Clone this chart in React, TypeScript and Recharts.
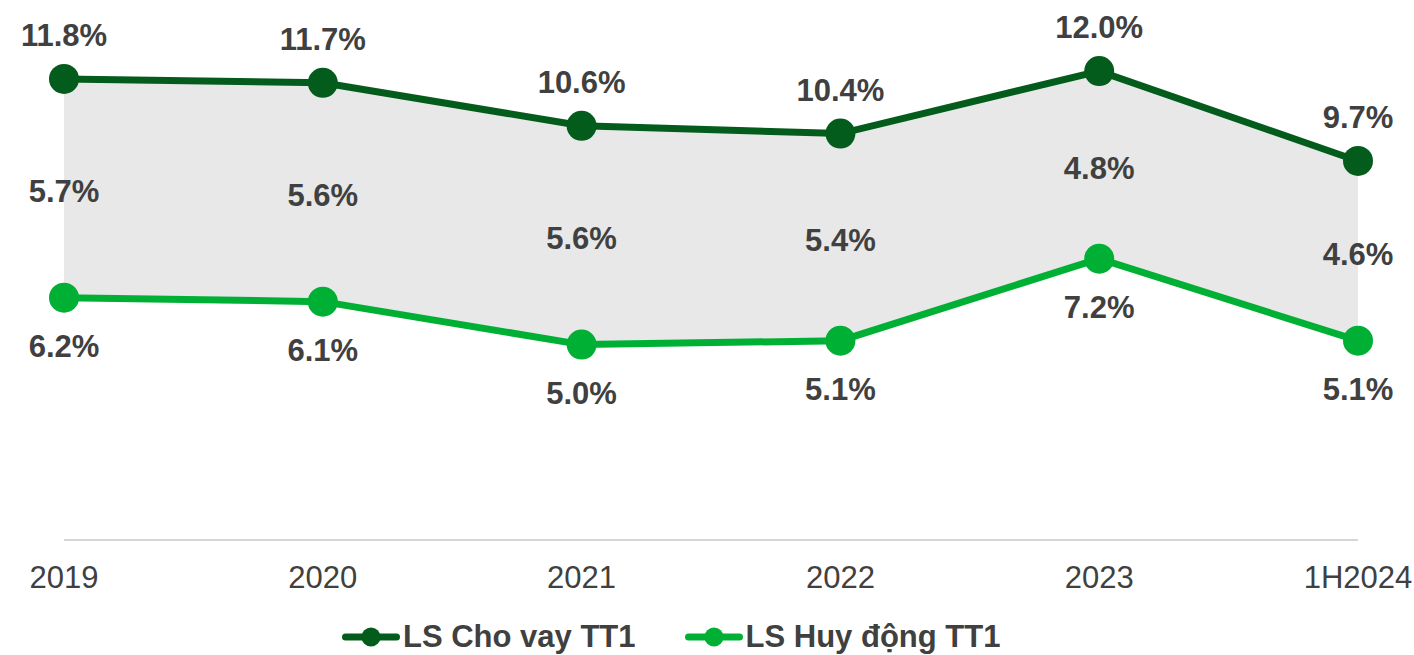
import React from 'react';
import { ComposedChart, Line, Area, XAxis, YAxis, LabelList } from 'recharts';

const categories = ['2019', '2020', '2021', '2022', '2023', '1H2024'];
const lendingRates = [11.8, 11.7, 10.6, 10.4, 12.0, 9.7];
const depositRates = [6.2, 6.1, 5.0, 5.1, 7.2, 5.1];
const spreadLabels = ['5.7%', '5.6%', '5.6%', '5.4%', '4.8%', '4.6%'];

const seriesNames = ['LS Cho vay TT1', 'LS Huy động TT1'];
const DARK = '#045c1c';
const LIGHT = '#00b034';
const TEXT = '#404040';
const FONT = '"Liberation Sans", Arial, sans-serif';

const data = categories.map((name, i) => ({
  name,
  lend: lendingRates[i],
  dep: depositRates[i],
  band: [depositRates[i], lendingRates[i]],
  mid: (depositRates[i] + lendingRates[i]) / 2,
}));

const fmt = (v: number) => `${v.toFixed(1)}%`;

const TopLabel = (props: any) => {
  const { x, y, value } = props;
  return (
    <text x={x} y={y - 44} dy="0.36em" textAnchor="middle" fill={TEXT} fontSize={31} fontWeight="bold" fontFamily={FONT}>
      {fmt(Number(value))}
    </text>
  );
};

const BottomLabel = (props: any) => {
  const { x, y, value } = props;
  return (
    <text x={x} y={y + 48} dy="0.36em" textAnchor="middle" fill={TEXT} fontSize={31} fontWeight="bold" fontFamily={FONT}>
      {fmt(Number(value))}
    </text>
  );
};

const MidLabel = (props: any) => {
  const { x, y, index } = props;
  return (
    <text x={x} y={y + 3} dy="0.36em" textAnchor="middle" fill={TEXT} fontSize={31} fontWeight="bold" fontFamily={FONT}>
      {spreadLabels[index]}
    </text>
  );
};

const Tick = (props: any) => {
  const { x, y, payload } = props;
  return (
    <text x={x} y={y} dy={48} textAnchor="middle" fill={TEXT} fontSize={31} fontFamily={FONT}>
      {payload.value}
    </text>
  );
};

const LegendItem = ({ color, label }: { color: string; label: string }) => (
  <div style={{ display: 'flex', alignItems: 'center' }}>
    <svg width={58} height={22} style={{ display: 'block' }}>
      <line x1={3.5} y1={11} x2={54.5} y2={11} stroke={color} strokeWidth={7} strokeLinecap="round" />
      <circle cx={29} cy={11} r={9.5} fill={color} />
    </svg>
    <span style={{ marginLeft: 3, fontSize: 31, fontWeight: 'bold', color: TEXT, fontFamily: FONT, whiteSpace: 'nowrap' }}>
      {label}
    </span>
  </div>
);

export default function App() {
  return (
    <div style={{ position: 'absolute', left: 0, top: 0, width: 1414, height: 655, background: '#fff', overflow: 'hidden' }}>
      <ComposedChart width={1414} height={655} data={data} margin={{ top: 32, right: 56, bottom: 75, left: 64 }}>
        <XAxis
          dataKey="name"
          scale="point"
          padding={{ left: 0, right: 0 }}
          axisLine={{ stroke: '#c8c8c8', strokeWidth: 1.5 }}
          tickLine={false}
          tickSize={0}
          tickMargin={0}
          height={40}
          tick={<Tick />}
          interval={0}
        />
        <YAxis hide domain={[0, 13]} />
        <Area dataKey="band" stroke="none" fill="#e8e8e8" fillOpacity={1} isAnimationActive={false} activeDot={false} />
        <Line dataKey="mid" stroke="none" dot={false} activeDot={false} isAnimationActive={false}>
          <LabelList dataKey="mid" content={<MidLabel />} />
        </Line>
        <Line
          dataKey="lend"
          stroke={DARK}
          strokeWidth={7}
          dot={{ r: 15, fill: DARK, stroke: 'none' }}
          activeDot={false}
          isAnimationActive={false}
        >
          <LabelList dataKey="lend" content={<TopLabel />} />
        </Line>
        <Line
          dataKey="dep"
          stroke={LIGHT}
          strokeWidth={7}
          dot={{ r: 15, fill: LIGHT, stroke: 'none' }}
          activeDot={false}
          isAnimationActive={false}
        >
          <LabelList dataKey="dep" content={<BottomLabel />} />
        </Line>
      </ComposedChart>
      <div style={{ position: 'absolute', left: 342, top: 619, display: 'flex', alignItems: 'center', gap: 49 }}>
        <LegendItem color={DARK} label={seriesNames[0]} />
        <LegendItem color={LIGHT} label={seriesNames[1]} />
      </div>
    </div>
  );
}
